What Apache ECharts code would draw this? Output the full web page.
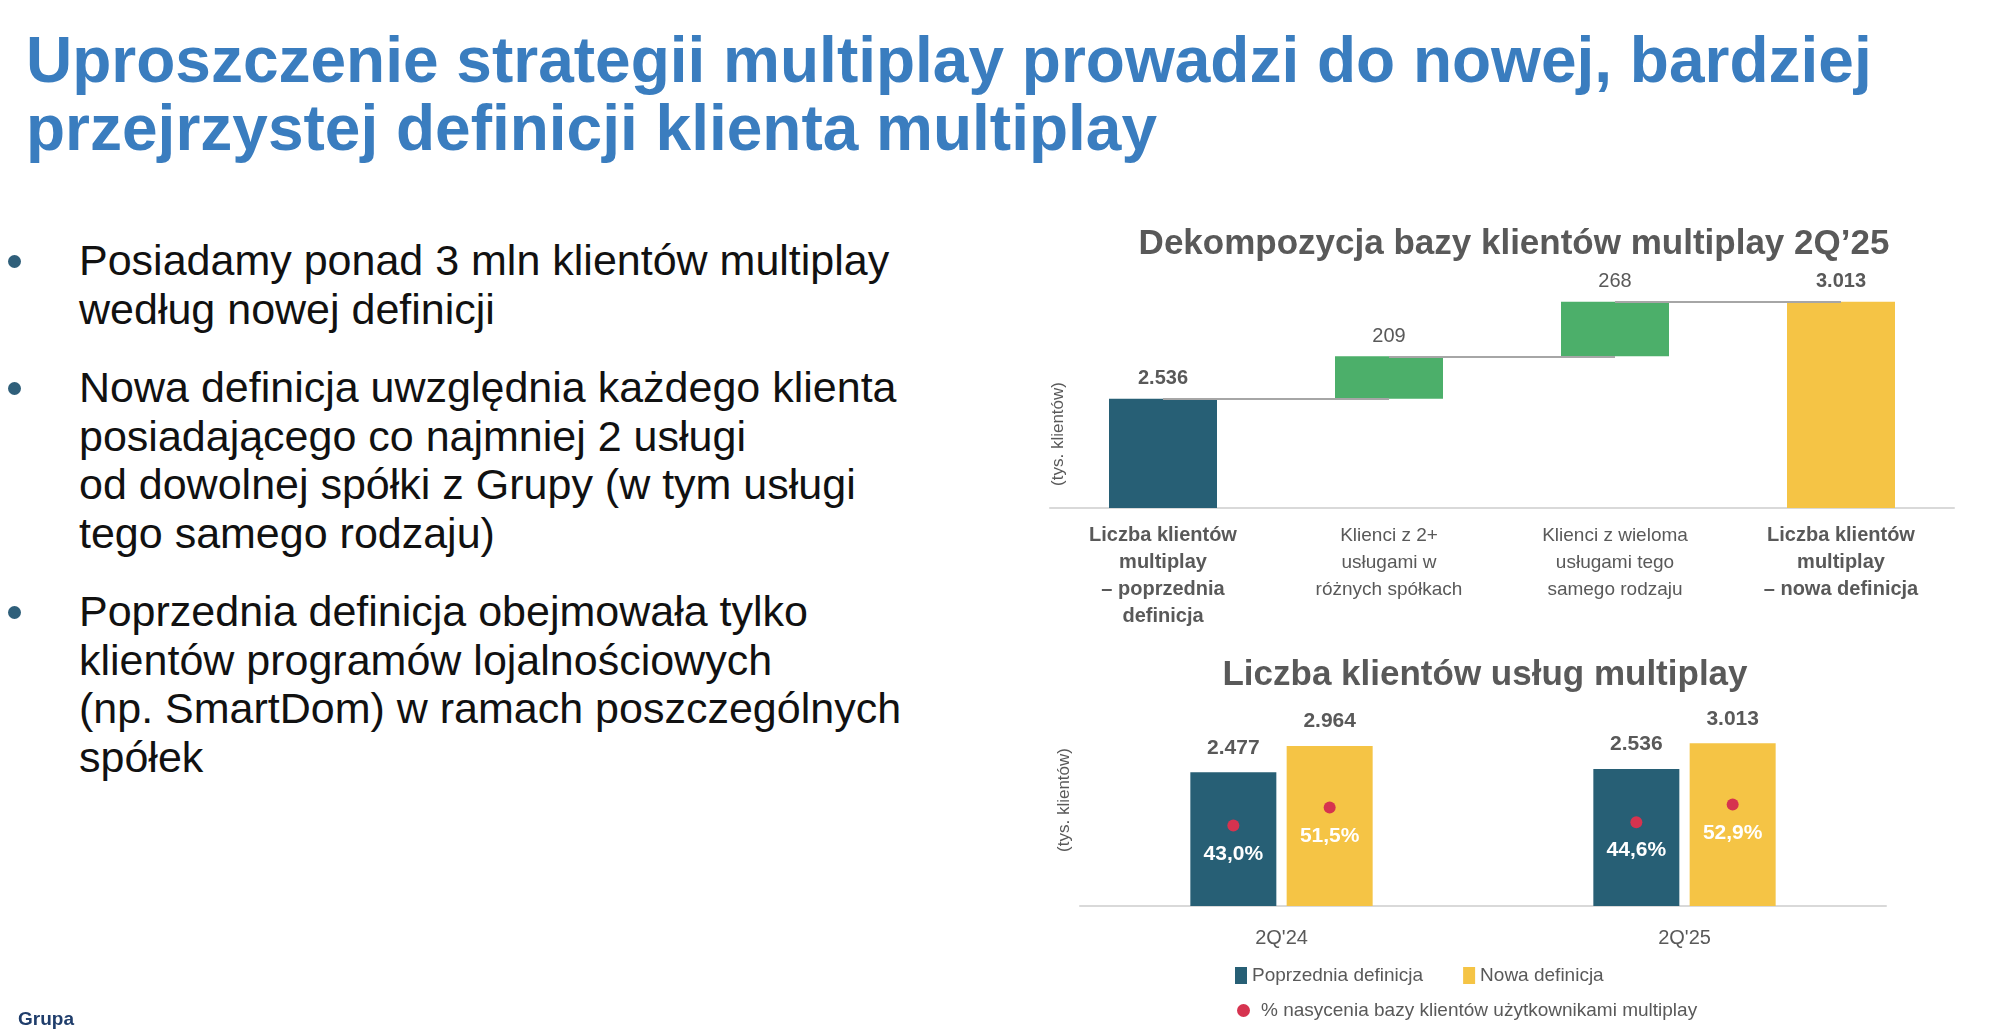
<!DOCTYPE html>
<html><head><meta charset="utf-8">
<script src="https://cdn.jsdelivr.net/npm/echarts@6/dist/echarts.min.js"></script>
<style>
html,body{margin:0;padding:0;background:#fff;width:2000px;height:1035px;overflow:hidden;font-family:"Liberation Sans",Arial,sans-serif}
#title{position:absolute;left:26px;top:26px;color:#3a7dbf;font-weight:bold;font-size:64px;line-height:68px}
ul{position:absolute;left:0;top:236px;margin:0;padding:0;list-style:none;font-size:43px;line-height:48.5px;color:#111}
li{position:relative;padding-left:79px;margin-bottom:30px}
li:before{content:"";position:absolute;left:8px;top:19px;width:13px;height:13px;border-radius:50%;background:#2f5f7a}
#logo{position:absolute;left:18px;top:1008px;color:#1f3d6b;font-weight:bold;font-size:19px}
#c{position:absolute;left:0;top:0;width:2000px;height:1035px}
</style></head><body>
<div id="title">Uproszczenie strategii multiplay prowadzi do nowej, bardziej<br>przejrzystej definicji klienta multiplay</div>
<ul>
<li>Posiadamy ponad 3 mln klientów multiplay<br>według nowej definicji</li>
<li>Nowa definicja uwzględnia każdego klienta<br>posiadającego co najmniej 2 usługi<br>od dowolnej spółki z Grupy (w tym usługi<br>tego samego rodzaju)</li>
<li>Poprzednia definicja obejmowała tylko<br>klientów programów lojalnościowych<br>(np. SmartDom) w ramach poszczególnych<br>spółek</li>
</ul>
<div id="c"></div>
<div id="logo">Grupa</div>
<script>
const wfCategories = ["Liczba klientów\nmultiplay\n– poprzednia\ndefinicja","Klienci z 2+\nusługami w\nróżnych spółkach","Klienci z wieloma\nusługami tego\nsamego rodzaju","Liczba klientów\nmultiplay\n– nowa definicja"];
const wfValues = [2536, 209, 268, 3013];
const wfLabels = ["2.536","209","268","3.013"];
const qCategories = ["2Q'24","2Q'25"];
const oldDef = [2477, 2536];
const newDef = [2964, 3013];
const oldDefLabels = ["2.477","2.536"];
const newDefLabels = ["2.964","3.013"];
const satOld = [43.0, 44.6];
const satNew = [51.5, 52.9];

const NAVY="#275f75", YEL="#f5c445", GRN="#4caf6a", RED="#d6334f", GREY="#595959";
const wfBase = [null];
let cum = wfValues[0];
for (let i=1;i<wfValues.length-1;i++){ wfBase.push(cum); cum += wfValues[i]; }
wfBase.push(null);
const tops = [wfValues[0]];
{ let c=wfValues[0]; for(let i=1;i<wfValues.length-1;i++){ c+=wfValues[i]; tops.push(c);} tops.push(wfValues[wfValues.length-1]); }
const connectors = [];
for (let i=0;i<tops.length-1;i++) connectors.push([{xAxis:i,yAxis:tops[i]},{xAxis:i+1,yAxis:tops[i]}]);
const wfColors=[NAVY,GRN,GRN,YEL];

const ch = echarts.init(document.getElementById('c'));
const F = "Liberation Sans";
ch.setOption({
  animation:false,
  textStyle:{fontFamily:F},
  title:[
    {text:"Dekompozycja bazy klientów multiplay 2Q’25",left:1509,top:222,textAlign:'center',textStyle:{fontSize:35,fontWeight:'bold',color:GREY,fontFamily:F}},
    {text:"Liczba klientów usług multiplay",left:1480,top:653,textAlign:'center',textStyle:{fontSize:35,fontWeight:'bold',color:GREY,fontFamily:F}}
  ],
  grid:[
    {left:1050,width:904,top:284,height:224},
    {left:1080,width:806,top:690,height:216}
  ],
  legend:[
    {left:1230,top:961,itemWidth:12,itemHeight:17,itemGap:40,icon:'rect',textStyle:{fontSize:19,color:GREY,fontFamily:F},data:["Poprzednia definicja","Nowa definicja"]},
    {left:1232,top:996,itemWidth:13,itemHeight:13,icon:'circle',textStyle:{fontSize:19,color:GREY,fontFamily:F,padding:[0,0,0,6]},data:["% nasycenia bazy klientów użytkownikami multiplay"]}
  ],
  xAxis:[
    {type:'category',gridIndex:0,data:wfCategories,axisTick:{show:false},axisLine:{lineStyle:{color:'#d9d9d9',width:2}},
     axisLabel:{margin:14,interval:0,lineHeight:27,fontSize:19,color:GREY,
       formatter:(v,i)=> (i===0||i===3)? '{b|'+v.split('\n').join('}\n{b|')+'}' : v,
       rich:{b:{fontWeight:'bold',fontSize:20,color:GREY,lineHeight:27}}}},
    {type:'category',gridIndex:1,data:qCategories,axisTick:{show:false},axisLine:{lineStyle:{color:'#d9d9d9',width:2}},
     axisLabel:{margin:22,fontSize:20,color:GREY}}
  ],
  yAxis:[
    {type:'value',gridIndex:0,min:2000,max:3100,show:false},
    {type:'value',gridIndex:1,min:0,max:4000,show:false},
    {type:'value',gridIndex:1,min:5,max:107,show:false}
  ],
  graphic:[
    {type:'text',x:1058,y:434,rotation:Math.PI/2,style:{text:'(tys. klientów)',fontSize:17,fill:GREY,fontFamily:F,align:'center',verticalAlign:'middle'}},
    {type:'text',x:1064,y:800,rotation:Math.PI/2,style:{text:'(tys. klientów)',fontSize:17,fill:GREY,fontFamily:F,align:'center',verticalAlign:'middle'}}
  ],
  series:[
    {type:'bar',xAxisIndex:0,yAxisIndex:0,stack:'wf',data:wfBase,itemStyle:{color:'transparent'},barWidth:108,z:1,
     markLine:{symbol:'none',silent:true,label:{show:false},lineStyle:{color:'#a6a6a6',type:'solid',width:2},data:connectors}},
    {type:'bar',xAxisIndex:0,yAxisIndex:0,stack:'wf',barWidth:108,z:3,
     data:wfValues.map((v,i)=>({value:v,itemStyle:{color:wfColors[i]}})),
     label:{show:true,position:'top',distance:10,fontSize:20,color:GREY,
       formatter:p=>(p.dataIndex===0||p.dataIndex===3)?'{b|'+wfLabels[p.dataIndex]+'}':wfLabels[p.dataIndex],
       rich:{b:{fontWeight:'bold',fontSize:20,color:GREY}}}},
    {name:"Poprzednia definicja",type:'bar',xAxisIndex:1,yAxisIndex:1,data:oldDef,barWidth:86,barGap:'12%',itemStyle:{color:NAVY},
     label:{show:true,position:'top',distance:14,fontSize:21,fontWeight:'bold',color:GREY,formatter:p=>oldDefLabels[p.dataIndex]}},
    {name:"Nowa definicja",type:'bar',xAxisIndex:1,yAxisIndex:1,data:newDef,barWidth:86,barGap:'12%',itemStyle:{color:YEL},
     label:{show:true,position:'top',distance:14,fontSize:21,fontWeight:'bold',color:GREY,formatter:p=>newDefLabels[p.dataIndex]}},
    {name:"% nasycenia bazy klientów użytkownikami multiplay",type:'pictorialBar',xAxisIndex:1,yAxisIndex:2,data:satOld,barWidth:86,barGap:'12%',
     symbol:'circle',symbolSize:12,symbolPosition:'end',symbolOffset:[0,'-50%'],itemStyle:{color:RED},z:5,
     label:{show:true,position:'insideTop',distance:0,offset:[0,24],fontSize:21,fontWeight:'bold',color:'#fff',formatter:p=>p.value.toFixed(1).replace('.',',')+'%'}},
    {name:"% nasycenia bazy klientów użytkownikami multiplay",type:'pictorialBar',xAxisIndex:1,yAxisIndex:2,data:satNew,barWidth:86,barGap:'12%',
     symbol:'circle',symbolSize:12,symbolPosition:'end',symbolOffset:[0,'-50%'],itemStyle:{color:RED},z:5,
     label:{show:true,position:'insideTop',distance:0,offset:[0,24],fontSize:21,fontWeight:'bold',color:'#fff',formatter:p=>p.value.toFixed(1).replace('.',',')+'%'}}
  ]
});
</script>
</body></html>
